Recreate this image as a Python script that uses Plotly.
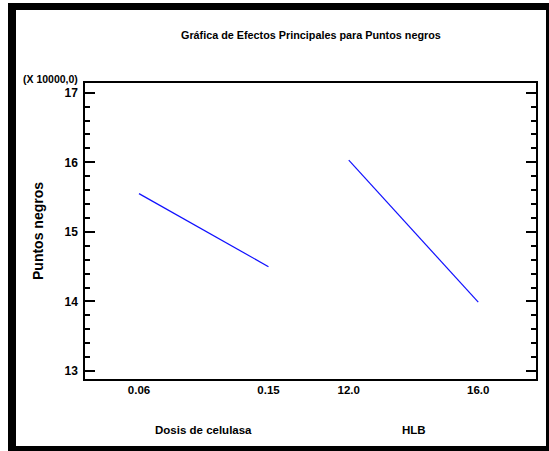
import plotly.graph_objects as go

# ---- data ----
factors = ["Dosis de celulasa", "HLB"]
level_labels_low = ["0.06", "12.0"]
level_labels_high = ["0.15", "16.0"]
means_low = [15.55, 16.03]      # x 10000
means_high = [14.50, 13.99]     # x 10000
y_ticks = [13, 14, 15, 16, 17]

title = "Gráfica de Efectos Principales para Puntos negros"
y_title = "Puntos negros"
y_scale_note = "(X 10000,0)"

# ---- layout helpers ----
W, H = 549, 451
L, R, T, B = 85, 536, 83, 379          # plot area in pixels
factor_gap = 1.62                      # horizontal spacing between factor blocks
x_range = [-0.417, 3.066]
y_range = [12.885, 17.14]

NARROW = "Liberation Sans Narrow, Arial Narrow, Liberation Sans, Arial, sans-serif"
WIDE = "Liberation Sans, Arial, sans-serif"


def px(xp):
    return (xp - L) / (R - L)


def py(yp):
    return (B - yp) / (B - T)


fig = go.Figure()
tickvals, ticktext = [], []
for i, f in enumerate(factors):
    off = i * factor_gap
    fig.add_trace(go.Scatter(
        x=[off, off + 1], y=[means_low[i], means_high[i]],
        mode="lines", line=dict(color="#1010ff", width=1.2),
        showlegend=False, hoverinfo="skip"))
    tickvals += [off, off + 1]
    ticktext += [level_labels_low[i], level_labels_high[i]]
    fig.add_annotation(x=off + 0.5, xref="x", y=py(430), yref="paper",
                       text=f"<b>{f}</b>", showarrow=False,
                       font=dict(family=NARROW, size=11.5, color="black"),
                       xanchor="center", yanchor="middle")

fig.update_xaxes(range=x_range, tickvals=tickvals, ticktext=ticktext,
                 showgrid=False, zeroline=False, showline=True,
                 linecolor="black", linewidth=1.5, mirror=True, ticks="",
                 tickfont=dict(family=NARROW, size=11.5, color="black", weight="bold"),
                 ticklabelstandoff=-1)
fig.update_yaxes(range=y_range, tickvals=y_ticks,
                 showgrid=False, zeroline=False, showline=True,
                 linecolor="black", linewidth=1.5, mirror="ticks",
                 ticks="inside", ticklen=10, tickwidth=1.5, tickcolor="black",
                 minor=dict(dtick=0.2, tick0=13, ticks="inside", ticklen=5,
                            tickwidth=1.5, tickcolor="black", showgrid=False),
                 tickfont=dict(family=NARROW, size=12, color="black", weight="bold"),
                 ticklabelstandoff=3)

# title and texts
fig.add_annotation(x=0.5, xref="paper", y=py(35), yref="paper",
                   text=f"<b>{title}</b>", showarrow=False,
                   font=dict(family=NARROW, size=10.8, color="black"),
                   xanchor="center", yanchor="middle")
fig.add_annotation(x=px(80), xref="paper", y=py(79), yref="paper",
                   text=f"<b>{y_scale_note}</b>", showarrow=False,
                   font=dict(family=NARROW, size=10.5, color="black"),
                   xanchor="right", yanchor="middle")
fig.add_annotation(x=px(38), xref="paper", y=py(231), yref="paper",
                   text=f"<b>{y_title}</b>", showarrow=False, textangle=-90,
                   font=dict(family=WIDE, size=14, color="black"),
                   xanchor="center", yanchor="middle")

# outer black frame (thick left/top/bottom, thin right)
frame = [(8, 3, 16, 451), (8, 3, 549, 10), (8, 446, 549, 451), (546, 3, 549, 451)]
for x0, y0, x1, y1 in frame:
    fig.add_shape(type="rect", xref="paper", yref="paper",
                  x0=px(x0), x1=px(x1), y0=py(y1), y1=py(y0),
                  fillcolor="black", line=dict(width=0), layer="above")

fig.update_layout(width=W, height=H, autosize=False,
                  margin=dict(l=L, r=W - R, t=T, b=H - B, pad=0),
                  plot_bgcolor="white", paper_bgcolor="white",
                  showlegend=False)

fig.write_html("out.html", config={"displayModeBar": False})
